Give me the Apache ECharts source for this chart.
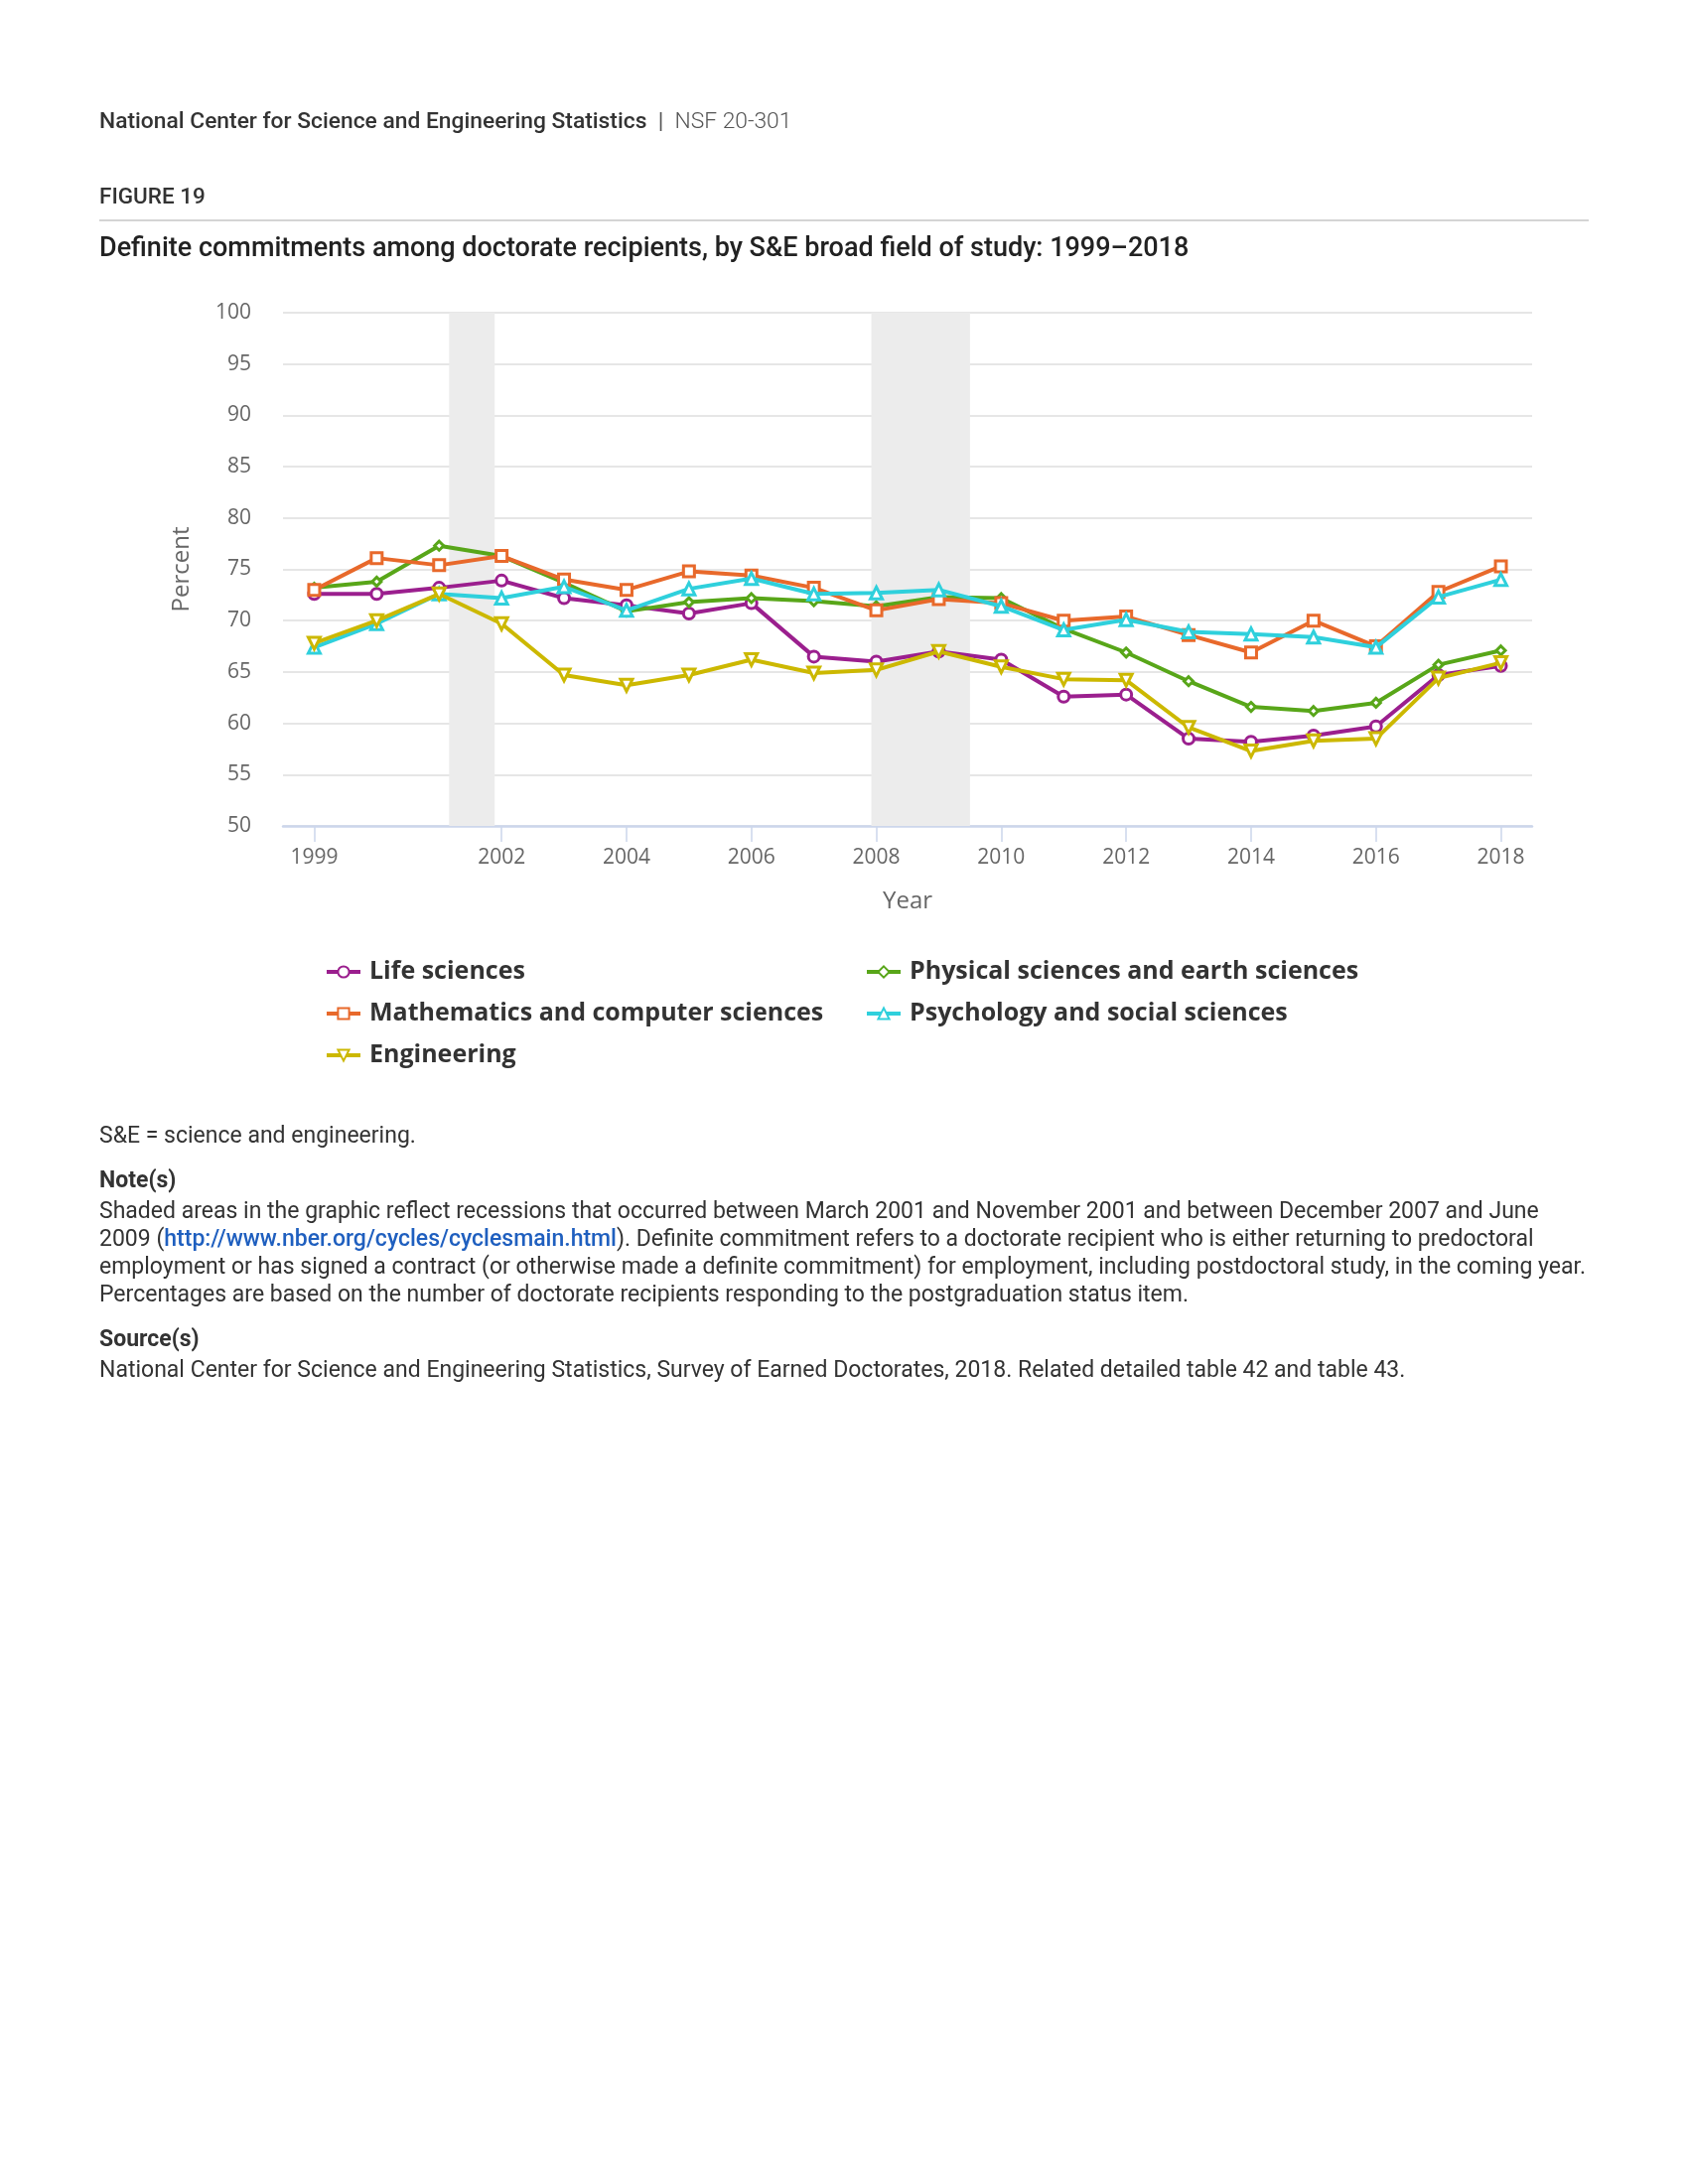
<!DOCTYPE html>
<html>
<head>
<meta charset="utf-8">
<script src="https://cdn.jsdelivr.net/npm/echarts@6/dist/echarts.min.js"></script>
<style>
  html, body { margin: 0; padding: 0; background: #fff; }
  #chart { width: 1700px; height: 2200px; }
</style>
</head>
<body>
<div id="chart"></div>
<script>
// ---- Data ----
const years = [1999, 2000, 2001, 2002, 2003, 2004, 2005, 2006, 2007, 2008, 2009, 2010, 2011, 2012, 2013, 2014, 2015, 2016, 2017, 2018];
const lifeSciences = [72.6, 72.6, 73.2, 73.9, 72.2, 71.5, 70.7, 71.7, 66.5, 66.0, 67.0, 66.2, 62.6, 62.8, 58.5, 58.2, 58.8, 59.7, 64.7, 65.6];
const physicalSciences = [73.2, 73.8, 77.3, 76.3, 73.7, 70.9, 71.8, 72.2, 71.9, 71.4, 72.3, 72.2, 69.2, 66.9, 64.1, 61.6, 61.2, 62.0, 65.7, 67.1];
const mathCompSciences = [73.0, 76.1, 75.4, 76.3, 74.0, 73.0, 74.8, 74.4, 73.2, 71.0, 72.1, 71.7, 70.0, 70.4, 68.6, 66.9, 70.0, 67.5, 72.8, 75.3];
const psychSocSciences = [67.4, 69.7, 72.6, 72.2, 73.3, 71.0, 73.1, 74.1, 72.6, 72.7, 73.0, 71.4, 69.1, 70.1, 68.9, 68.7, 68.4, 67.4, 72.3, 74.0];
const engineering = [67.8, 70.0, 72.6, 69.7, 64.7, 63.7, 64.7, 66.2, 64.9, 65.2, 67.0, 65.5, 64.3, 64.2, 59.6, 57.3, 58.3, 58.5, 64.4, 65.9];
const xTickYears = [1999, 2002, 2004, 2006, 2008, 2010, 2012, 2014, 2016, 2018];
// recessions: March 2001 - November 2001, December 2007 - June 2009 (fractional years)
const recessions = [[2001.16, 2001.89], [2007.92, 2009.5]];

const seriesNames = ['Life sciences', 'Physical sciences and earth sciences', 'Mathematics and computer sciences', 'Psychology and social sciences', 'Engineering'];
const seriesData = [lifeSciences, physicalSciences, mathCompSciences, psychSocSciences, engineering];
const colors = ['#9b1f8e', '#58a619', '#e8692b', '#2fd0dc', '#ccb800'];
const symbols = ['circle', 'diamond', 'rect', 'triangle', 'path://M0,0 L10,0 L5,10 Z'];
const symbolSizes = [11, 9, 11, 12, 12];

const chart = echarts.init(document.getElementById('chart'), null, { renderer: 'canvas' });

const series = seriesNames.map((name, i) => ({
  name: name,
  type: 'line',
  data: years.map((y, k) => [y, seriesData[i][k]]),
  symbol: symbols[i],
  symbolSize: symbolSizes[i],
  showAllSymbol: true,
  lineStyle: { width: 4, color: colors[i] },
  itemStyle: { color: '#ffffff', borderColor: colors[i], borderWidth: 3 },
  z: 3 + i,
  emphasis: { disabled: true },
  markArea: i === 0 ? {
    silent: true,
    z: 1,
    itemStyle: { color: '#ececec' },
    data: recessions.map(r => [{ xAxis: r[0] }, { xAxis: r[1] }])
  } : undefined
}));

const footFont = 'Roboto, "Liberation Sans", sans-serif';
const txt = (x, y, text, style) => ({
  type: 'text', x: x, y: y,
  style: Object.assign({ text: text, fill: '#333', font: '400 23px ' + footFont, verticalAlign: 'middle', align: 'left' }, style)
});

const legendCommon = {
  orient: 'vertical', top: 965, padding: 0,
  itemWidth: 34, itemHeight: 14, itemGap: 14,
  lineStyle: { width: 4 },
  textStyle: { color: '#333', fontSize: 25, fontWeight: 'bold', fontFamily: '"Open Sans", sans-serif', lineHeight: 28, padding: [0, 0, 0, 4] },
  selectedMode: false
};

const option = {
  animation: false,
  backgroundColor: '#ffffff',
  color: colors,
  grid: { left: 285, right: 157, top: 315, bottom: 1368, containLabel: false },
  xAxis: {
    type: 'value',
    min: 1998.5,
    max: 2018.5,
    name: 'Year',
    nameLocation: 'middle',
    nameGap: 64,
    nameTextStyle: { color: '#666', fontSize: 24, fontFamily: '"Open Sans", sans-serif' },
    axisLine: { show: true, lineStyle: { color: '#ccd6eb', width: 2.5 } },
    axisTick: { show: true, length: 16, lineStyle: { color: '#ccd6eb', width: 1.5 }, customValues: xTickYears },
    axisLabel: { color: '#666', fontSize: 21, fontFamily: '"Open Sans", sans-serif', margin: 22, customValues: xTickYears, formatter: v => String(v) },
    splitLine: { show: false }
  },
  yAxis: {
    type: 'value',
    min: 50,
    max: 100,
    interval: 5,
    name: 'Percent',
    nameLocation: 'middle',
    nameGap: 90,
    nameTextStyle: { color: '#666', fontSize: 24, fontFamily: '"Open Sans", sans-serif' },
    axisLine: { show: false },
    axisTick: { show: false },
    axisLabel: { color: '#666', fontSize: 21, fontFamily: '"Open Sans", sans-serif', margin: 32 },
    splitLine: { show: true, lineStyle: { color: '#e6e6e6', width: 2 } }
  },
  legend: [
    Object.assign({}, legendCommon, { data: [seriesNames[0], seriesNames[2], seriesNames[4]], left: 327 }),
    Object.assign({}, legendCommon, { data: [seriesNames[1], seriesNames[3]], left: 871 })
  ],
  series: series,
  graphic: [
    {
      type: 'text', x: 100, y: 123,
      style: {
        text: '{a|National Center for Science and Engineering Statistics}{b|  |  }{c|NSF 20-301}',
        verticalAlign: 'middle',
        rich: {
          a: { font: '500 22.8px ' + footFont, fill: '#333' },
          b: { font: '400 22.8px ' + footFont, fill: '#555' },
          c: { font: '300 22.8px ' + footFont, fill: '#555' }
        }
      }
    },
    txt(100, 199, 'FIGURE 19', { font: '500 22.5px ' + footFont, fill: '#333' }),
    { type: 'rect', x: 100, y: 221, shape: { x: 0, y: 0, width: 1500, height: 2 }, style: { fill: '#d4d4d4' } },
    txt(100, 251, 'Definite commitments among doctorate recipients, by S&E broad field of study: 1999–2018', { font: '500 27px ' + footFont, fill: '#222' }),
    txt(100, 1145, 'S&E = science and engineering.'),
    txt(100, 1190, 'Note(s)', { font: '700 23px ' + footFont, fill: '#333' }),
    txt(100, 1221, 'Shaded areas in the graphic reflect recessions that occurred between March 2001 and November 2001 and between December 2007 and June'),
    {
      type: 'text', x: 100, y: 1249,
      style: {
        text: '{t|2009 (}{l|http://www.nber.org/cycles/cyclesmain.html}{t|). Definite commitment refers to a doctorate recipient who is either returning to predoctoral}',
        verticalAlign: 'middle',
        rich: {
          t: { font: '400 23px ' + footFont, fill: '#333' },
          l: { font: '500 23px ' + footFont, fill: '#1f5fbf' }
        }
      }
    },
    txt(100, 1277, 'employment or has signed a contract (or otherwise made a definite commitment) for employment, including postdoctoral study, in the coming year.'),
    txt(100, 1305, 'Percentages are based on the number of doctorate recipients responding to the postgraduation status item.'),
    txt(100, 1350, 'Source(s)', { font: '700 23px ' + footFont, fill: '#333' }),
    txt(100, 1381, 'National Center for Science and Engineering Statistics, Survey of Earned Doctorates, 2018. Related detailed table 42 and table 43.')
  ]
};

chart.setOption(option);
</script>
</body>
</html>
